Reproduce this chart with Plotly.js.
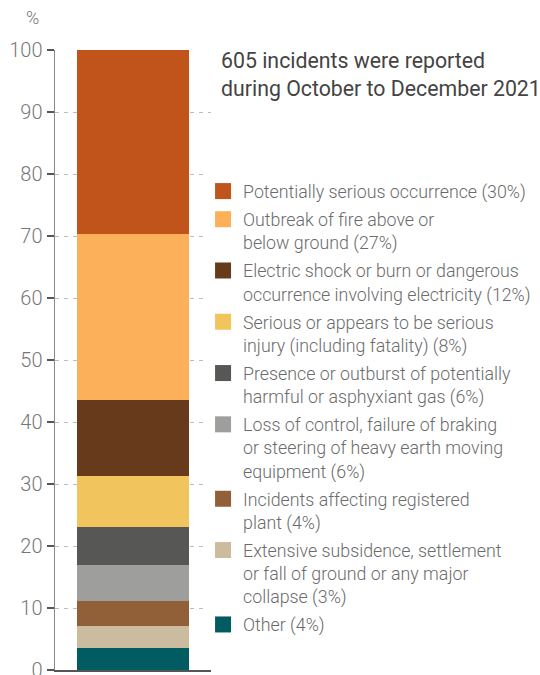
<!DOCTYPE html>
<html>
<head>
<meta charset="utf-8">
<script src="https://cdn.plot.ly/plotly-3.0.1.min.js"></script>
<style>html,body{margin:0;padding:0;background:#fff;}#chart{width:540px;height:675px;}</style>
</head>
<body>
<div id="chart"></div>
<script>
// Categories listed bottom of the stack first
const categories = [
  "Other (4%)",
  "Extensive subsidence, settlement<br>or fall of ground or any major<br>collapse (3%)",
  "Incidents affecting registered<br>plant (4%)",
  "Loss of control, failure of braking<br>or steering of heavy earth moving<br>equipment (6%)",
  "Presence or outburst of potentially<br>harmful or asphyxiant gas (6%)",
  "Serious or appears to be serious<br>injury (including fatality) (8%)",
  "Electric shock or burn or dangerous<br>occurrence involving electricity (12%)",
  "Outbreak of fire above or<br>below ground (27%)",
  "Potentially serious occurrence (30%)"
];
const shares = [3.6, 3.5, 4.1, 5.8, 6.0, 8.3, 12.2, 26.8, 29.7];
const colors = ["#005C60", "#CBBB9F", "#926038", "#9E9E9C", "#575755", "#F2C45D", "#673A1B", "#FDB05A", "#C0541B"];
const tickVals = [0, 10, 20, 30, 40, 50, 60, 70, 80, 90, 100];
const xCat = ["Incidents"];

const FONT = "Roboto, 'Open Sans', sans-serif";

const barTraces = categories.map((name, i) => ({
  type: "bar",
  x: xCat,
  y: [shares[i]],
  name: name,
  legendgroup: "g" + i,
  legendrank: 100 - i,
  showlegend: false,
  marker: { color: colors[i] },
  width: 0.72,
  hoverinfo: "skip"
}));

// legend keys (square swatches) for the same categories, top of stack listed first
const keyTraces = categories.map((name, i) => ({
  type: "scatter",
  mode: "markers",
  x: xCat,
  y: [null],
  name: name,
  legendgroup: "g" + i,
  legendrank: 100 - i,
  showlegend: true,
  marker: { color: colors[i], symbol: "square", size: 16 },
  hoverinfo: "skip"
}));

const layout = {
  width: 540,
  height: 675,
  margin: { l: 55, r: 328, t: 50, b: 5 },
  barmode: "stack",
  paper_bgcolor: "#fff",
  plot_bgcolor: "#fff",
  font: { family: FONT, color: "#6b6b6b" },
  showlegend: true,
  legend: {
    traceorder: "grouped",
    x: 0.943, xanchor: "left",
    y: 0.8016, yanchor: "top",
    font: { family: FONT, size: 17.8, color: "#6b6b6b", weight: 300 },
    valign: "top",
    tracegroupgap: 2,
    itemsizing: "trace",
    itemclick: false
  },
  title: {
    text: "605 incidents were reported<br>during October to December 2021",
    x: 221 / 540, xanchor: "left", xref: "container",
    y: 1 - 68 / 675, yanchor: "top", yref: "container",
    font: { family: FONT, size: 21.3, color: "#444" }
  },
  xaxis: {
    showticklabels: false,
    ticks: "",
    showgrid: false,
    showline: true,
    linecolor: "#555",
    linewidth: 1.5,
    zeroline: false,
    fixedrange: true
  },
  yaxis: {
    range: [0, 100],
    tickvals: tickVals,
    ticktext: tickVals.map(String),
    ticks: "outside",
    ticklen: 7,
    tickwidth: 1.5,
    tickcolor: "#555",
    showline: true,
    linecolor: "#888",
    linewidth: 1.5,
    showgrid: true,
    gridcolor: "#bdbdbd",
    griddash: "4px,5px",
    gridwidth: 1,
    zeroline: false,
    ticklabeloverflow: "allow",
    tickfont: { family: FONT, size: 20, color: "#777", weight: 300 },
    fixedrange: true
  },
  annotations: [{
    text: "%",
    xref: "paper", yref: "paper",
    x: (32 - 55) / 157, y: 1 + (50 - 17) / 620,
    xanchor: "center", yanchor: "middle",
    showarrow: false,
    font: { family: FONT, size: 18, color: "#777", weight: 300 }
  }]
};

Plotly.newPlot("chart", barTraces.concat(keyTraces), layout, { displayModeBar: false, staticPlot: true });
</script>
</body>
</html>
